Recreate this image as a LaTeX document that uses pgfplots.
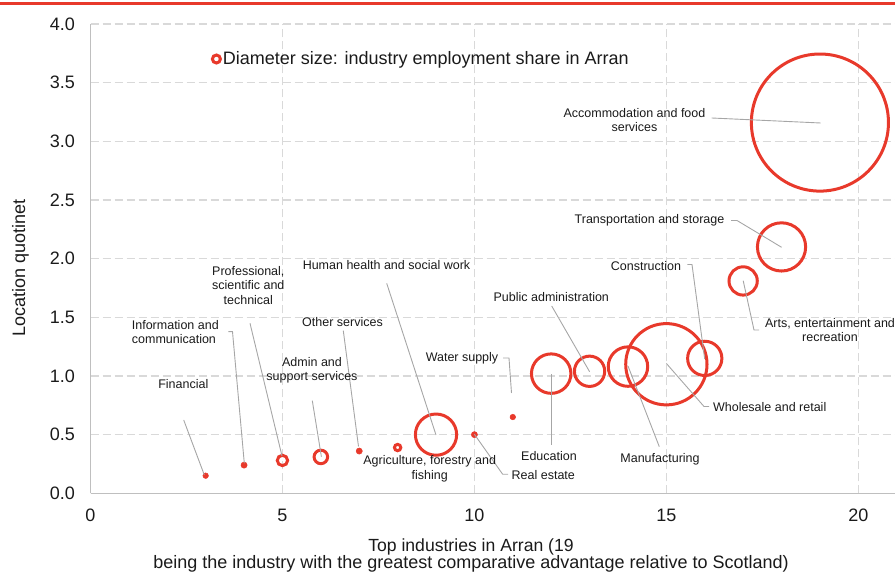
\documentclass[border=0pt]{standalone}
\usepackage{fontspec}
\setmainfont{Liberation Sans}
\usepackage{pgfplots}
\pgfplotsset{compat=1.18}
\usepackage{pgfplotstable}
\definecolor{bub}{HTML}{E8392B}
\definecolor{axgray}{HTML}{BFBFBF}
\definecolor{gridgray}{HTML}{D9D9D9}
\definecolor{leader}{HTML}{A6A6A6}
\definecolor{txt}{HTML}{1A1A1A}
\newcommand\bigsz{\fontsize{18bp}{20bp}\selectfont}
\newcommand\titsz{\fontsize{17.6bp}{20bp}\selectfont}
\newcommand\annsz{\fontsize{12.5bp}{14.7bp}\selectfont}

% x = rank, y = location quotient, r = ring radius (bp)
\pgfplotstableread{
x y r
5 0.28 5.2
6 0.31 6.8
8 0.39 3.2
9 0.50 20.7
12 1.02 19.8
13 1.04 15.2
14 1.08 19.8
15 1.10 40.8
16 1.15 17.2
17 1.81 14.2
18 2.10 24.2
19 3.16 68.8
}\rings
% the smallest shares show as solid dots
\pgfplotstableread{
x y r
3 0.15 2.8
4 0.24 3.1
7 0.36 3.1
10 0.50 3.1
11 0.65 2.8
}\dots

\begin{document}
\begin{tikzpicture}
\useasboundingbox (0,0) rectangle (895bp,574bp);
\begin{axis}[
    at={(90.5bp,80.7bp)}, anchor=south west,
    scale only axis, width=806.2bp, height=469.3bp,
    xmin=0, xmax=21, ymin=0, ymax=4,
    clip=false,
    axis x line*=bottom, axis y line*=left,
    axis line style={draw=axgray, line width=1.5bp, -},
    xtick={0,5,10,15,20},
    ytick={0,0.5,1,1.5,2,2.5,3,3.5,4},
    major tick length=0pt,
    grid=major,
    grid style={draw=gridgray, line width=1.2bp, dash pattern=on 8bp off 4bp},
    /pgf/number format/assume math mode=true,
    tick label style={font=\bigsz, text=txt, inner sep=0pt},
    xticklabel style={anchor=center, yshift=-21.7bp},
    yticklabel style={anchor=east, xshift=-15.5bp,
        /pgf/number format/.cd, fixed, fixed zerofill, precision=1},
    legend style={at={(0.1491,0.9254)}, anchor=west, draw=none, fill=none,
        inner sep=0pt, font=\bigsz, text=txt,
        nodes={inner sep=1bp}},
]
\addplot[scatter, only marks, mark=o,
    mark options={line width=3bp},
    scatter/use mapped color={draw=bub, fill=bub},
    visualization depends on={\thisrow{r} \as \rad},
    scatter/@pre marker code/.append style={/tikz/mark size=\rad},
    legend image code/.code={\draw[bub, line width=3bp] (0bp,0bp) circle (4bp);}]
    table[x=x, y=y] {\rings};
\addlegendentry{Diameter size: industry employment share in Arran}
\addplot[scatter, only marks, mark=*, forget plot,
    mark options={line width=0.5bp},
    scatter/use mapped color={draw=bub, fill=bub},
    visualization depends on={\thisrow{r} \as \rad},
    scatter/@pre marker code/.append style={/tikz/mark size=\rad}]
    table[x=x, y=y] {\dots};
\end{axis}

% top rule
\draw[bub, line width=3bp] (0,570.5bp) -- (895bp,570.5bp);

% labels and leader lines, in pixel coordinates of the reference
\begin{scope}[x=1bp, y=-1bp, yshift=574bp,
    ann/.style={font=\annsz, align=center, inner sep=0pt, text=txt},
    ld/.style={draw=leader, line width=0.9bp}]
\draw[ld] (711.7,118) -- (820.6,123);
\draw[ld] (731,220.5) -- (737,220.5) -- (781.6,247.3);
\draw[ld] (687.3,264.5) -- (692,264.5) -- (704.7,359);
\draw[ld] (743.2,280.7) -- (754,330) -- (759,330);
\draw[ld] (666.4,363.5) -- (704,406.5) -- (709,406.5);
\draw[ld] (659.3,446.7) -- (628,366);
\draw[ld] (551.7,306) -- (589.6,371.7);
\draw[ld] (551.2,445) -- (551.2,373.7);
\draw[ld] (503,358) -- (509,358) -- (511.5,393);
\draw[ld] (474.4,434.3) -- (502.7,474.3) -- (508,474.3);
\draw[ld] (386.7,283.3) -- (436,435);
\draw[ld] (343.3,330.7) -- (358.5,446.5);
\draw[ld] (312.3,400.7) -- (321.4,456.7);
\draw[ld] (250,323.3) -- (282,456);
\draw[ld] (228.3,331.7) -- (232.5,331.7) -- (244.3,463.3);
\draw[ld] (183.7,420) -- (204.3,475);

\node[ann] at (634.5,120) {Accommodation and food\\services};
\node[ann] at (649.5,220.7) {Transportation and storage};
\node[ann] at (646,265.7) {Construction};
\node[ann] at (830,330) {Arts, entertainment and\\recreation};
\node[ann] at (769.7,406.7) {Wholesale and retail};
\node[ann] at (660,459) {Manufacturing};
\node[ann] at (551.3,296.7) {Public administration};
\node[ann] at (549,455.7) {Education};
\node[ann] at (462,358.3) {Water supply};
\node[ann] at (543.3,475) {Real estate};
\node[ann] at (429.7,468.7) {Agriculture, forestry and\\fishing};
\node[ann] at (386.5,265) {Human health and social work};
\node[ann] at (342.5,321.7) {Other services};
\node[ann] at (312,370.2) {Admin and\\support services};
\node[ann] at (248.3,285.5) {Professional,\\scientific and\\technical};
\node[ann, align=left, anchor=west] at (131.7,332) {Information and\\communication};
\node[ann] at (183.3,384.3) {Financial};

% axis titles
\node[font=\titsz, text=txt, inner sep=0pt, anchor=base] at (471,551.2) {Top industries in Arran (19};
\node[font=\bigsz, text=txt, inner sep=0pt, anchor=base] at (471,568.3) {being the industry with the greatest comparative advantage relative to Scotland)};
\node[font=\bigsz, text=txt, inner sep=0pt, anchor=base, rotate=90] at (25,268) {Location quotinet};
\end{scope}
\end{tikzpicture}
\end{document}
